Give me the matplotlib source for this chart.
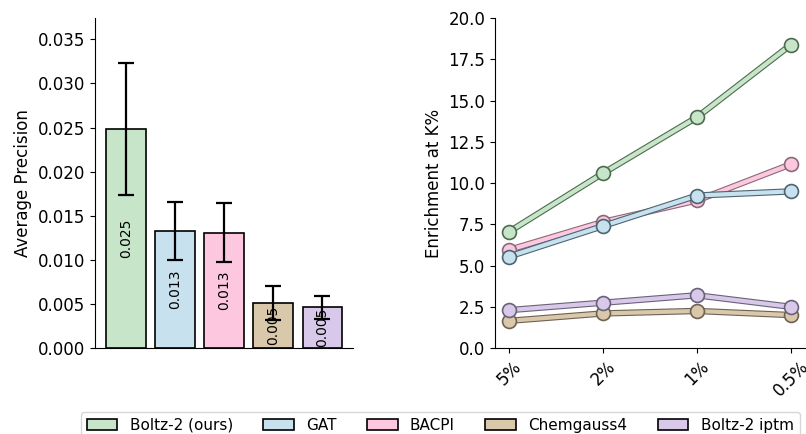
import numpy as np
import matplotlib
matplotlib.use("Agg")
import matplotlib.pyplot as plt
import matplotlib.patheffects as pe
from matplotlib.patches import Patch

# データ
methods = ["Boltz-2 (ours)", "GAT", "BACPI", "Chemgauss4", "Boltz-2 iptm"]
colors = ["#c7e5c8", "#c7e2ee", "#fdc8df", "#dac8aa", "#d8c9ea"]
edges = ["#4e6b50", "#4b6672", "#8a6a78", "#6e6253", "#6a6278"]

ap_mean = [0.0248, 0.0133, 0.0131, 0.0051, 0.0046]
ap_err = [0.0075, 0.0033, 0.0033, 0.0019, 0.0013]

k_labels = ["5%", "2%", "1%", "0.5%"]
enrichment = {
    "Boltz-2 (ours)": [7.05, 10.6, 14.0, 18.4],
    "GAT": [5.55, 7.4, 9.25, 9.5],
    "BACPI": [5.95, 7.65, 8.95, 11.15],
    "Chemgauss4": [1.65, 2.1, 2.25, 2.0],
    "Boltz-2 iptm": [2.3, 2.75, 3.2, 2.5],
}

plt.rcParams["font.family"] = ["DejaVu Sans"]

fig = plt.figure(figsize=(8.06, 4.34), dpi=100)
ax1 = fig.add_axes([0.118, 0.198, 0.320, 0.760])
ax2 = fig.add_axes([0.614, 0.198, 0.385, 0.760])

# 左: 棒グラフ
x = np.arange(len(methods))
ax1.bar(x, ap_mean, width=0.8, color=colors, edgecolor="black", linewidth=1.2,
        yerr=ap_err, capsize=6, error_kw=dict(elinewidth=1.6, capthick=1.6, ecolor="black"))
for xi, v in zip(x, ap_mean):
    ax1.text(xi, v / 2, f"{v:.3f}", rotation=90, ha="center", va="center", fontsize=10)
ax1.set_xlim(-0.63, 4.63)
ax1.set_ylim(0, 0.0374)
ax1.set_xticks([])
ax1.set_ylabel("Average Precision", fontsize=12)
ax1.tick_params(axis="y", labelsize=12)
ax1.spines["top"].set_visible(False)
ax1.spines["right"].set_visible(False)

# 右: 折れ線（線は縁取り付き、マーカーは細い縁）
xk = np.arange(len(k_labels))
order = ["Chemgauss4", "Boltz-2 iptm", "BACPI", "GAT", "Boltz-2 (ours)"]
for name in order:
    i = methods.index(name)
    ax2.plot(xk, enrichment[name], color=colors[i], lw=3,
             path_effects=[pe.Stroke(linewidth=4.6, foreground=edges[i]), pe.Normal()])
    ax2.plot(xk, enrichment[name], ls="none", marker="o", markersize=10,
             markerfacecolor=colors[i], markeredgecolor=edges[i], markeredgewidth=1.2)
ax2.set_xticks(xk)
ax2.set_xticklabels(k_labels, rotation=45, fontsize=12)
ax2.set_ylim(0, 20)
ax2.set_yticks(np.arange(0, 20.1, 2.5))
ax2.tick_params(axis="y", labelsize=12)
ax2.set_ylabel("Enrichment at K%", fontsize=12)
ax2.spines["top"].set_visible(False)
ax2.spines["right"].set_visible(False)

# 凡例
handles = [Patch(facecolor=c, edgecolor="black", linewidth=1.2, label=m) for c, m in zip(colors, methods)]
fig.legend(handles=handles, loc="upper left", bbox_to_anchor=(73 / 806, 1 - 404 / 434),
           ncol=5, fontsize=11, frameon=True)

fig.savefig("out.png", dpi=100)
